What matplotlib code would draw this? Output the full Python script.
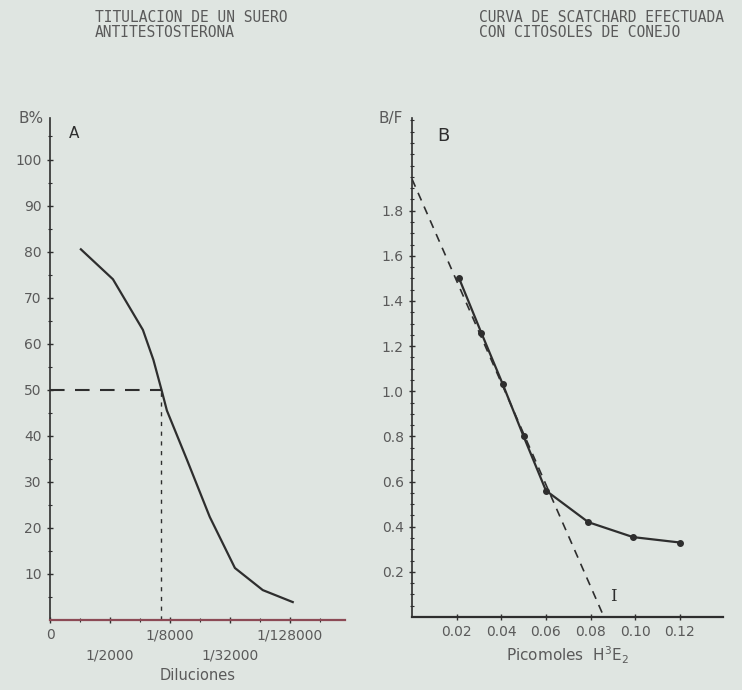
"""Titulacion del suero (A) y curva de Scatchard (B)."""
import matplotlib.pyplot as plt
import numpy as np

BG = "#dfe5e1"
INK = "#2e2e2e"
LABEL = "#5a5a5a"
RED_AXIS = "#8c4a55"

# --- A: titulacion (x = indice de dilucion, escala log2) ---
dil_x = [1.03, 2.1, 3.1, 3.45, 3.72, 3.9, 4.57, 5.33, 6.17, 7.1, 8.1]
dil_y = [80.5, 74.0, 63.0, 56.5, 50.0, 45.5, 34.8, 22.4, 11.3, 6.5, 3.9]
half_x = 3.72
half_y = 50
a_ticks = [0, 2, 4, 6, 8]
a_labels = ["0", "\n1/2000", "1/8000", "\n1/32000", "1/128000"]
a_yticks = [10, 20, 30, 40, 50, 60, 70, 80, 90, 100]

# --- B: Scatchard ---
pm = [0.0211, 0.031, 0.0407, 0.050, 0.060, 0.079, 0.099, 0.120]
bf = [1.50, 1.26, 1.03, 0.80, 0.56, 0.42, 0.354, 0.33]
extrap_x = [0.0, 0.086]
extrap_y = [1.94, 0.0]
b_xticks = [0.02, 0.04, 0.06, 0.08, 0.10, 0.12]
b_xlabels = ["0.02", "0.04", "0.06", "0.08", "0.10", "0.12"]
b_yticks = [0.2, 0.4, 0.6, 0.8, 1.0, 1.2, 1.4, 1.6, 1.8]

fig = plt.figure(figsize=(7.42, 6.90), dpi=100)
fig.patch.set_facecolor(BG)


def style(ax):
    ax.set_facecolor(BG)
    for s in ("top", "right"):
        ax.spines[s].set_visible(False)
    ax.spines["left"].set_color(INK)
    ax.spines["left"].set_linewidth(1.2)
    ax.tick_params(colors=INK, labelcolor=LABEL, labelsize=10,
                   direction="inout", length=5, width=1)
    ax.tick_params(which="minor", direction="inout", length=3, width=0.8,
                   colors=INK)


# ---- panel A ----
axA = fig.add_axes([0.0674, 0.1014, 0.397, 0.7275])
style(axA)
axA.spines["bottom"].set_color(RED_AXIS)
axA.spines["bottom"].set_linewidth(1.6)
axA.plot(dil_x, dil_y, color=INK, linewidth=1.6)
axA.plot([0, half_x], [half_y, half_y], color=INK, linewidth=1.5,
         dashes=(7, 5))
axA.plot([half_x, half_x], [0, half_y], color=INK, linewidth=1.0,
         dashes=(3, 4))
axA.set_xlim(0, 9.83)
axA.set_ylim(0, 109)
axA.set_xticks(a_ticks)
axA.set_xticklabels(a_labels)
for lbl in axA.get_xticklabels():
    lbl.set_linespacing(1.55)
axA.set_xticks(np.arange(1, 10), minor=True)
axA.set_yticks(a_yticks)
axA.set_yticks(np.arange(5, 106, 5), minor=True)
axA.tick_params(axis="x", length=4, pad=4)
axA.set_xlabel("Diluciones", color=LABEL, fontsize=10.5, labelpad=4)
axA.text(-0.02, 1.0, "B%", transform=axA.transAxes, ha="right", va="center",
         fontsize=11, color=LABEL)
axA.text(0.08, 0.97, "A", transform=axA.transAxes, ha="center",
         va="center", fontsize=11, color=INK)

# ---- panel B ----
axB = fig.add_axes([0.5553, 0.1058, 0.419, 0.723])
style(axB)
axB.spines["bottom"].set_color(INK)
axB.spines["bottom"].set_linewidth(1.6)
axB.plot(extrap_x, extrap_y, color=INK, linewidth=1.2, dashes=(5, 4))
axB.plot(pm, bf, color=INK, linewidth=1.6, marker="o", markersize=4)
axB.set_xlim(0, 0.1393)
axB.set_ylim(0, 2.21)
axB.set_xticks(b_xticks)
axB.set_xticklabels(b_xlabels)
axB.set_yticks(b_yticks)
axB.set_yticklabels([f"{v:.1f}" for v in b_yticks])
axB.set_yticks(np.arange(0.05, 2.2, 0.05), minor=True)
axB.set_xlabel("Picomoles  H$^3$E$_2$", color=LABEL, fontsize=11,
               labelpad=4)
axB.text(-0.03, 1.0, "B/F", transform=axB.transAxes, ha="right",
         va="center", fontsize=11, color=LABEL)
axB.text(0.1, 0.965, "B", transform=axB.transAxes, ha="center",
         va="center", fontsize=13, color=INK)
axB.text(extrap_x[1] + 0.004, 0.09, "I", ha="center", va="center",
         fontsize=12, color=INK, family="DejaVu Serif")

# ---- titulos mecanografiados ----
fig.text(0.128, 0.985, "TITULACION DE UN SUERO\nANTITESTOSTERONA",
         ha="left", va="top", fontsize=10.5, color=LABEL,
         family="DejaVu Sans Mono", linespacing=0.95)
fig.text(0.6456, 0.985, "CURVA DE SCATCHARD EFECTUADA\nCON CITOSOLES DE CONEJO",
         ha="left", va="top", fontsize=10.5, color=LABEL,
         family="DejaVu Sans Mono", linespacing=0.95)

plt.savefig("out.png", dpi=100, facecolor=BG)
plt.close()
